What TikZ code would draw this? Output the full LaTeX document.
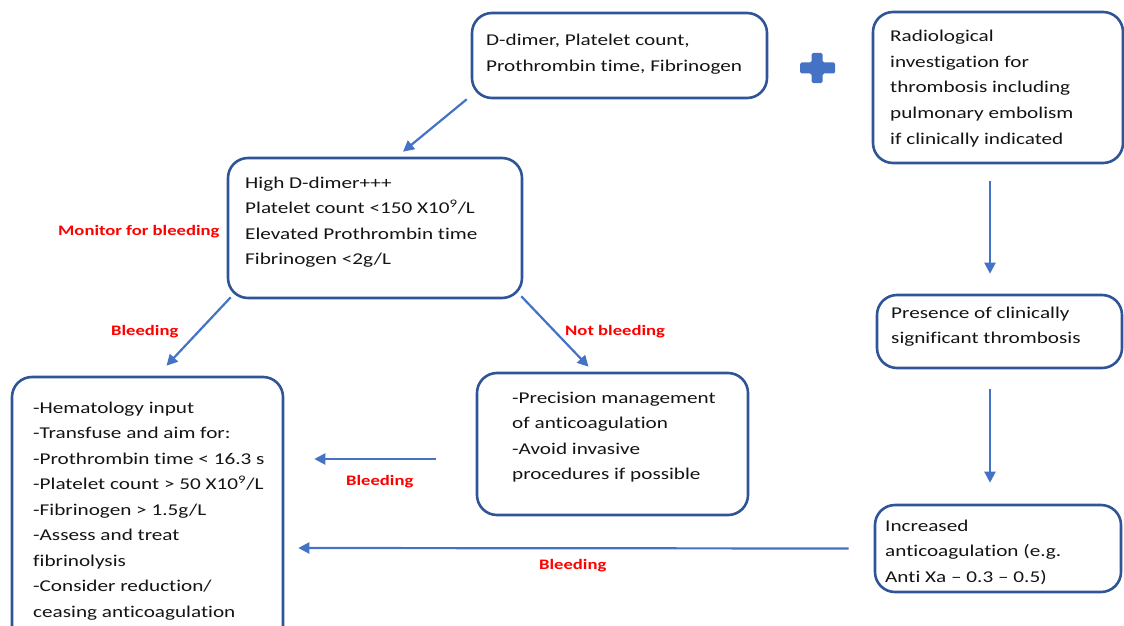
\documentclass[tikz,border=0pt]{standalone}
\usepackage{fontspec}
\setmainfont{Carlito}[Ligatures=NoCommon]
\usetikzlibrary{arrows.meta,calc}
\definecolor{boxblue}{HTML}{2F5597}
\definecolor{arrblue}{HTML}{4472C4}
\definecolor{txtgray}{HTML}{141414}
\newcommand{\boxtext}[1]{\scalebox{1.285}[1]{\fontsize{16.5}{25.5}\selectfont\begin{tabular}[t]{@{}l@{}}#1\end{tabular}}}
\newcommand{\redtext}[1]{\scalebox{1.285}[1]{\fontsize{14.5}{17}\selectfont\bfseries #1}}
\tikzset{
  box/.style={draw=boxblue, line width=2.6pt, rounded corners=20pt, inner sep=0pt},
  bt/.style={anchor=base west, inner sep=0pt, text=txtgray},
  lbl/.style={anchor=base west, inner sep=0pt, text=red},
  arr/.style={draw=arrblue, line width=2.2pt, -{Triangle[length=11pt,width=11pt]}},
}
\begin{document}
\begin{tikzpicture}[x=1pt,y=-1pt]
\useasboundingbox (0,0) rectangle (1124,626);
\clip (0,0) rectangle (1124,626);
% boxes
\node[box, minimum width=295pt, minimum height=85pt] (A) at (619.5,55.5) {};
\node[box, minimum width=250pt, minimum height=151pt] (R) at (998,87.5) {};
\node[box, minimum width=294pt, minimum height=140pt] (B) at (375,228) {};
\node[box, minimum width=271pt, minimum height=270pt] (C) at (147.5,512) {};
\node[box, minimum width=271pt, minimum height=142pt] (D) at (612.5,444) {};
\node[box, minimum width=245pt, minimum height=73pt] (E) at (999.5,331.5) {};
\node[box, minimum width=246pt, minimum height=87pt] (F) at (998,548.5) {};
% texts
\node[bt] (At) at (486,46) {\boxtext{D-dimer, Platelet count,\\Prothrombin time, Fibrinogen}};
\node[bt] (Rt) at (890,42) {\boxtext{Radiological\\investigation for\\thrombosis including\\pulmonary embolism\\if clinically indicated}};
\node[bt] (Bt) at (245,188) {\boxtext{High D-dimer+++\\Platelet count <150 X10\textsuperscript{9}/L\\Elevated Prothrombin time\\Fibrinogen <2g/L}};
\node[bt] (Ct) at (33,413) {\boxtext{-Hematology input\\-Transfuse and aim for:\\-Prothrombin time < 16.3 s\\-Platelet count > 50 X10\textsuperscript{9}/L\\-Fibrinogen > 1.5g/L\\-Assess and treat\\fibrinolysis\\-Consider reduction/\\ceasing anticoagulation}};
\node[bt] (Dt) at (512,403) {\boxtext{-Precision management\\of anticoagulation\\-Avoid invasive\\procedures if possible}};
\node[bt] (Et) at (891,318) {\boxtext{Presence of clinically\\significant thrombosis}};
\node[bt] (Ft) at (885,531) {\boxtext{Increased\\anticoagulation (e.g.\\Anti Xa -- 0.3 -- 0.5)}};
% plus sign
\fill[arrblue, rounded corners=1.5pt] (811.5,53) -- (822.5,53) -- (822.5,62.5) -- (835,62.5) -- (835,73.5) -- (822.5,73.5) -- (822.5,83) -- (811.5,83) -- (811.5,73.5) -- (800,73.5) -- (800,62.5) -- (811.5,62.5) -- cycle;
% arrows
\draw[arr] ($(A.south west)+(-4,0)$) -- ($(B.north)+(28,-5)$);
\draw[arr] ($(B.south west)+(4,-2)$) -- ($(C.north)+(19,-10)$);
\draw[arr] ($(B.south east)+(-2,-3)$) -- ($(D.north)+(-24,-5)$);
\draw[arr] ($(D.west)+(-40,15)$) -- ($(C.east)+(30,-53)$);
\draw[arr] ($(R.south)+(-8,17)$) -- ($(E.north)+(-9.5,-20)$);
\draw[arr] ($(E.south)+(-9.5,20)$) -- ($(F.north)+(-8,-21)$);
\draw[arr] ($(F.west)+(-25,0)$) -- ($(C.east)+(14,36)$);
% labels
\node[lbl] (L1) at (58,235) {\redtext{Monitor for bleeding}};
\node[lbl] (L2) at (111,335) {\redtext{Bleeding}};
\node[lbl] (L3) at (565,335) {\redtext{Not bleeding}};
\node[lbl] (L4) at (346,485) {\redtext{Bleeding}};
\node[lbl] (L5) at (539,569) {\redtext{Bleeding}};
\end{tikzpicture}
\end{document}
